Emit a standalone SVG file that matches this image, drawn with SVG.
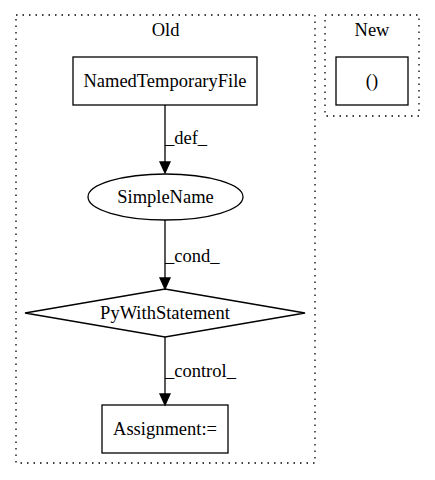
<svg xmlns="http://www.w3.org/2000/svg" width="435" height="480" viewBox="0 0 435 480">
<style>
text{font-family:"Liberation Serif","Times New Roman",serif;font-size:18.5px;fill:#000}
.c{text-anchor:middle}
.cl{fill:none;stroke:#000;stroke-dasharray:1.5,5;stroke-width:1.3}
.n{fill:none;stroke:#000;stroke-width:1.3}
.e{fill:none;stroke:#000;stroke-width:1.3}
.ah{fill:#000;stroke:#000;stroke-width:1.3}
</style>
<rect width="435" height="480" fill="#fff"/>
<g id="cluster_old">
<rect class="cl" x="16" y="15" width="299" height="448"/>
<text class="c" x="165.5" y="36">Old</text>
</g>
<g id="cluster_new">
<rect class="cl" x="325" y="15" width="94" height="101"/>
<text class="c" x="372" y="36">New</text>
</g>
<g id="node_NamedTemporaryFile">
<rect class="n" x="73" y="57" width="184" height="48"/>
<text class="c" x="165" y="87">NamedTemporaryFile</text>
</g>
<g id="node_SimpleName">
<ellipse class="n" cx="165.5" cy="197" rx="77.5" ry="23"/>
<text class="c" x="165.5" y="203">SimpleName</text>
</g>
<g id="node_PyWithStatement">
<polygon class="n" points="165,289 305,313 165,337 25,313"/>
<text class="c" x="165" y="319">PyWithStatement</text>
</g>
<g id="node_Assignment">
<rect class="n" x="102" y="405" width="126" height="48"/>
<text class="c" x="165" y="435">Assignment:=</text>
</g>
<g id="node_paren">
<rect class="n" x="336" y="57" width="72" height="48"/>
<text class="c" x="372" y="87">()</text>
</g>
<g id="edges">
<line class="e" x1="165" y1="105" x2="165" y2="162"/>
<polygon class="ah" points="160,162 170,162 165,173"/>
<text x="165" y="144">_def_</text>
<line class="e" x1="165" y1="220" x2="165" y2="278"/>
<polygon class="ah" points="160,278 170,278 165,289"/>
<text x="165" y="262">_cond_</text>
<line class="e" x1="165" y1="337" x2="165" y2="394"/>
<polygon class="ah" points="160,394 170,394 165,405"/>
<text x="165" y="377">_control_</text>
</g>
</svg>
